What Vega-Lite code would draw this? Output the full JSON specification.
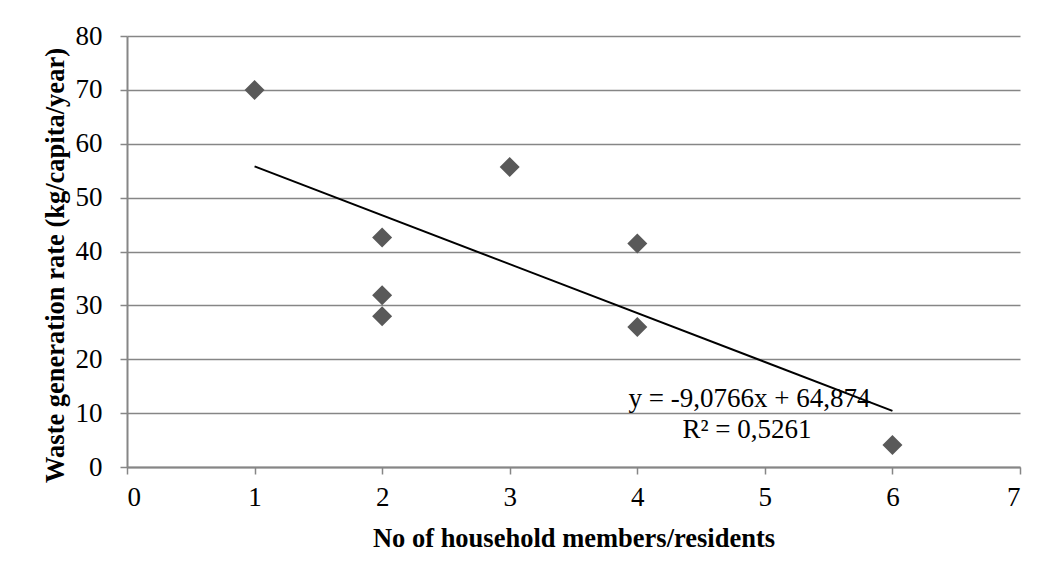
{
  "$schema": "https://vega.github.io/schema/vega-lite/v6.json",
  "autosize": "none",
  "width": 893,
  "height": 431,
  "padding": {"left": 127, "top": 36, "right": 26, "bottom": 111},
  "background": "white",
  "config": {
    "view": {"stroke": null},
    "font": "Liberation Serif",
    "axis": {
      "labelFont": "Liberation Serif",
      "titleFont": "Liberation Serif",
      "labelFontSize": 27,
      "labelColor": "#000000",
      "titleFontSize": 26.5,
      "titleFontWeight": "bold",
      "titleColor": "#000000",
      "domainColor": "#868686",
      "domainWidth": 2,
      "tickColor": "#868686",
      "tickWidth": 1.5,
      "tickSize": 7,
      "gridColor": "#868686",
      "gridWidth": 1.5
    }
  },
  "datasets": {
    "points": [
      {"members": 1, "rate": 70.0},
      {"members": 2, "rate": 42.6},
      {"members": 2, "rate": 31.9},
      {"members": 2, "rate": 28.0},
      {"members": 3, "rate": 55.7},
      {"members": 4, "rate": 41.5},
      {"members": 4, "rate": 26.0},
      {"members": 6, "rate": 4.1}
    ],
    "trend": [
      {"members": 1, "rate": 55.797},
      {"members": 6, "rate": 10.414}
    ],
    "labels": [
      {"members": 4.88, "rate": 12.6, "text": "y = -9,0766x + 64,874"},
      {"members": 4.86, "rate": 6.9, "text": "R² = 0,5261"}
    ]
  },
  "layer": [
    {
      "data": {"name": "points"},
      "mark": {"type": "point", "shape": "diamond", "filled": true, "size": 400, "color": "#595959", "opacity": 1},
      "encoding": {
        "x": {
          "field": "members", "type": "quantitative",
          "scale": {"domain": [0, 7], "nice": false, "zero": false},
          "axis": {
            "title": "No of household members/residents",
            "values": [0, 1, 2, 3, 4, 5, 6, 7],
            "format": "d",
            "grid": false,
            "labelPadding": 10,
            "titleY": 71,
            "titleBaseline": "middle"
          }
        },
        "y": {
          "field": "rate", "type": "quantitative",
          "scale": {"domain": [0, 80], "nice": false},
          "axis": {
            "title": "Waste generation rate (kg/capita/year)",
            "values": [0, 10, 20, 30, 40, 50, 60, 70, 80],
            "format": "d",
            "grid": true,
            "labelPadding": 18,
            "titleX": -72,
            "titleY": 229,
            "titleBaseline": "middle"
          }
        }
      }
    },
    {
      "data": {"name": "trend"},
      "mark": {"type": "line", "color": "#000000", "strokeWidth": 2},
      "encoding": {
        "x": {"field": "members", "type": "quantitative"},
        "y": {"field": "rate", "type": "quantitative"}
      }
    },
    {
      "data": {"name": "labels"},
      "mark": {"type": "text", "font": "Liberation Serif", "fontSize": 27, "color": "#000000", "align": "center", "baseline": "middle"},
      "encoding": {
        "x": {"field": "members", "type": "quantitative"},
        "y": {"field": "rate", "type": "quantitative"},
        "text": {"field": "text"}
      }
    }
  ]
}
